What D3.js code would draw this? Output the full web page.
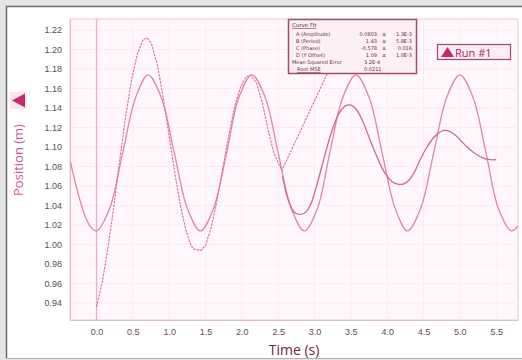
<!DOCTYPE html>
<html>
<head>
<meta charset="utf-8">
<script src="https://cdn.jsdelivr.net/npm/d3@7"></script>
<style>
  html, body { margin: 0; padding: 0; background: #e4e4e6; }
  svg { display: block; font-family: "DejaVu Sans", Verdana, sans-serif; }
</style>
</head>
<body>
<svg id="chart" width="522" height="360"></svg>
<script>
// axis ticks
const xTicks = [0, 0.5, 1, 1.5, 2, 2.5, 3, 3.5, 4, 4.5, 5, 5.5];
const yTicks = [0.94, 0.96, 0.98, 1.00, 1.02, 1.04, 1.06, 1.08, 1.10, 1.12, 1.14, 1.16, 1.18, 1.20, 1.22];

// sine fit curve [time, position]
const fitCurve = [
  [-0.36, 1.085], [-0.27, 1.057], [-0.18, 1.034], [-0.09, 1.019], [0.0, 1.014],
  [0.18, 1.037], [0.36, 1.094], [0.54, 1.151], [0.71, 1.174], [0.89, 1.151],
  [1.07, 1.094], [1.25, 1.037], [1.43, 1.014], [1.61, 1.037], [1.79, 1.094],
  [1.96, 1.151], [2.14, 1.174], [2.32, 1.151], [2.50, 1.094], [2.68, 1.037],
  [2.86, 1.014], [3.04, 1.037], [3.21, 1.094], [3.39, 1.151], [3.57, 1.174],
  [3.75, 1.151], [3.93, 1.094], [4.11, 1.037], [4.28, 1.014], [4.46, 1.037],
  [4.64, 1.094], [4.82, 1.151], [5.00, 1.174], [5.18, 1.151], [5.36, 1.094],
  [5.53, 1.037], [5.71, 1.014], [5.80, 1.019]
];

// Run #1 data, first part (ends in the jump that runs under the fit box)
const runPart1 = [
  [0.00, 0.936], [0.08, 0.962], [0.16, 0.998], [0.24, 1.040], [0.32, 1.087],
  [0.40, 1.131], [0.48, 1.168], [0.56, 1.195], [0.64, 1.210], [0.70, 1.212],
  [0.76, 1.205], [0.84, 1.183], [0.92, 1.150], [1.00, 1.111], [1.08, 1.072],
  [1.16, 1.038], [1.24, 1.012], [1.30, 0.999], [1.35, 0.995], [1.44, 0.994],
  [1.50, 0.999], [1.58, 1.018], [1.66, 1.046], [1.74, 1.079], [1.82, 1.112],
  [1.90, 1.141], [1.98, 1.161], [2.06, 1.172], [2.12, 1.174], [2.20, 1.166],
  [2.28, 1.146], [2.36, 1.118], [2.44, 1.094], [2.55, 1.076], [3.30, 1.195]
];

// Run #1 data, second part
const runPart2 = [
  [2.56, 1.070], [2.62, 1.050], [2.68, 1.038], [2.74, 1.032], [2.80, 1.031],
  [2.86, 1.032], [2.94, 1.040], [3.02, 1.058], [3.10, 1.080], [3.18, 1.102],
  [3.26, 1.121], [3.34, 1.135], [3.42, 1.142], [3.50, 1.143], [3.58, 1.138],
  [3.66, 1.127], [3.74, 1.112], [3.82, 1.097], [3.90, 1.083], [3.98, 1.072],
  [4.06, 1.065], [4.14, 1.062], [4.22, 1.062], [4.30, 1.066], [4.38, 1.075],
  [4.46, 1.088], [4.54, 1.099], [4.62, 1.108], [4.70, 1.114], [4.78, 1.117],
  [4.86, 1.116], [4.94, 1.112], [5.02, 1.106], [5.10, 1.100], [5.18, 1.095],
  [5.26, 1.091], [5.34, 1.088], [5.42, 1.087], [5.50, 1.087]
];

// curve fit box text
const fitLabels = ["A (Amplitude)", "B (Period)", "C (Phase)", "D (Y Offset)"];
const fitValues = ["0.0803", "1.43", "-0.578", "1.09"];
const fitErrors = ["1.3E-3", "5.8E-3", "0.016", "1.0E-3"];
const mseValue = "3.2E-4";
const rmseValue = "0.0211";

const svg = d3.select("#chart");

// white panel with frame
svg.append("rect").attr("x", 6).attr("y", 6).attr("width", 520).attr("height", 352)
  .attr("fill", "#ffffff");
svg.append("path").attr("d", "M6.5,358 V6.5 H522")
  .attr("fill", "none").attr("stroke", "#6b6b6b").attr("stroke-width", 1.5);
svg.append("line").attr("x1", 6).attr("x2", 522).attr("y1", 358.5).attr("y2", 358.5)
  .attr("stroke", "#b5b5b5");

const x = d3.scaleLinear().domain([-0.365, 5.80]).range([70, 518]);
const y = d3.scaleLinear().domain([0.9226, 1.2313]).range([320, 19]);

// plot area
svg.append("rect")
  .attr("x", x.range()[0]).attr("y", y.range()[1])
  .attr("width", x.range()[1] - x.range()[0]).attr("height", y.range()[0] - y.range()[1])
  .attr("fill", "#fff7fb").attr("stroke", "#e9c8d7");

// faint grid
svg.append("g").selectAll("line").data(xTicks).join("line")
  .attr("x1", d => x(d)).attr("x2", d => x(d))
  .attr("y1", y.range()[1]).attr("y2", y.range()[0])
  .attr("stroke", "#fcebf2");
svg.append("g").selectAll("line").data(yTicks).join("line")
  .attr("x1", x.range()[0]).attr("x2", x.range()[1])
  .attr("y1", d => y(d)).attr("y2", d => y(d))
  .attr("stroke", "#fcebf2");

// t = 0 line
svg.append("line")
  .attr("x1", x(0)).attr("x2", x(0)).attr("y1", y.range()[1]).attr("y2", y.range()[0])
  .attr("stroke", "#e8b0c9").attr("stroke-width", 1.3);

// axes
const yAxis = svg.append("g").attr("transform", `translate(${x.range()[0]},0)`)
  .call(d3.axisLeft(y).tickValues(yTicks).tickFormat(d3.format(".2f")).tickSize(0).tickPadding(8));
const xAxis = svg.append("g").attr("transform", `translate(0,${y.range()[0]})`)
  .call(d3.axisBottom(x).tickValues(xTicks).tickFormat(d3.format(".1f")).tickSize(0).tickPadding(9));
[yAxis, xAxis].forEach(a => {
  a.select(".domain").attr("stroke", "#e0bccb");
  a.selectAll("text").attr("fill", "#634a56").attr("font-size", 9);
});

svg.append("clipPath").attr("id", "plotclip").append("rect")
  .attr("x", 70).attr("y", 19).attr("width", 448).attr("height", 301);

const line = d3.line().x(d => x(d[0])).y(d => y(d[1]));
const smooth = d3.line().x(d => x(d[0])).y(d => y(d[1])).curve(d3.curveCatmullRom);

const plot = svg.append("g").attr("clip-path", "url(#plotclip)");
plot.append("path").datum(fitCurve).attr("d", smooth)
  .attr("fill", "none").attr("stroke", "#e283ab").attr("stroke-width", 1.3);
plot.append("path").datum(runPart1).attr("d", line)
  .attr("fill", "none").attr("stroke", "#d96e9b").attr("stroke-width", 1.1)
  .attr("stroke-dasharray", "2.5,1");
plot.append("path").datum(runPart2).attr("d", smooth)
  .attr("fill", "none").attr("stroke", "#c96b93").attr("stroke-width", 1.3);

// curve fit box
const ink = "#6a2a45";
const box = svg.append("g").attr("fill", ink);
box.append("rect").attr("x", 288.5).attr("y", 19.5).attr("width", 128).attr("height", 54)
  .attr("fill", "#fcf0f5").attr("stroke", "#a9486f").attr("stroke-width", 1.5);
box.append("text").attr("x", 292).attr("y", 27).text("Curve Fit")
  .attr("font-size", 5.5).attr("text-decoration", "underline");
fitLabels.forEach((lab, i) => {
  const yy = 36 + i * 7;
  box.append("text").attr("x", 296).attr("y", yy).text(lab).attr("font-size", 5);
  box.append("text").attr("x", 377).attr("y", yy).text(fitValues[i])
    .attr("font-size", 5).attr("text-anchor", "end");
  box.append("text").attr("x", 384).attr("y", yy).text("\u00b1")
    .attr("font-size", 5).attr("text-anchor", "middle");
  box.append("text").attr("x", 412).attr("y", yy).text(fitErrors[i])
    .attr("font-size", 5).attr("text-anchor", "end");
});
box.append("text").attr("x", 292).attr("y", 64).text("Mean Squared Error").attr("font-size", 5);
box.append("text").attr("x", 364).attr("y", 64).text(mseValue).attr("font-size", 5);
box.append("text").attr("x", 297).attr("y", 71).text("Root MSE")
  .attr("font-size", 5).attr("text-decoration", "underline");
box.append("text").attr("x", 364).attr("y", 71).text(rmseValue).attr("font-size", 5);

// legend
const leg = svg.append("g");
leg.append("rect").attr("x", 437.5).attr("y", 44.5).attr("width", 73).attr("height", 15)
  .attr("fill", "#fdeef5").attr("stroke", "#9a4a6a").attr("stroke-width", 1.2);
leg.append("path").attr("d", "M441,57 L447.5,47 L454,57 Z").attr("fill", "#c4296c");
leg.append("text").attr("x", 455).attr("y", 56.5).text("Run #1")
  .attr("font-size", 11).attr("fill", "#a3235f").attr("font-family", "'Open Sans', sans-serif");

// y axis title with marker
svg.append("rect").attr("x", 10).attr("y", 92).attr("width", 17).attr("height", 17).attr("fill", "#fbe3ee");
svg.append("path").attr("d", "M12,100.5 L25,93.5 L25,107.5 Z").attr("fill", "#c4296c");
svg.append("text").attr("transform", "translate(23,160) rotate(-90)")
  .attr("text-anchor", "middle").text("Position (m)")
  .attr("font-size", 13).attr("fill", "#d6569a").attr("font-family", "'Open Sans', sans-serif");

// x axis title
svg.append("text").attr("x", 294).attr("y", 355).attr("text-anchor", "middle")
  .text("Time (s)").attr("font-size", 14).attr("fill", "#6b2544")
  .attr("font-family", "'Open Sans', sans-serif");
</script>
</body>
</html>
